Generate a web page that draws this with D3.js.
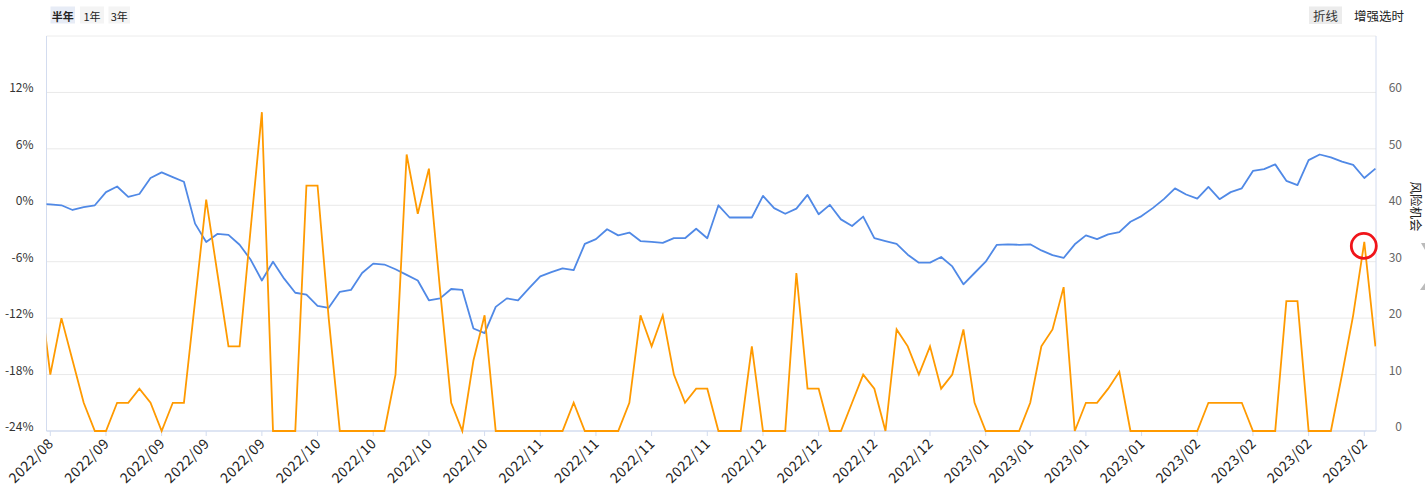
<!DOCTYPE html>
<html>
<head>
<meta charset="utf-8">
<script src="https://cdn.jsdelivr.net/npm/d3@7/dist/d3.min.js"></script>
<style>
  html, body { margin: 0; padding: 0; background: #fff; }
  svg { display: block; font-family: "Microsoft YaHei", "Noto Sans CJK SC", "Noto Sans", sans-serif; }
</style>
</head>
<body>
<svg id="chart" width="1425" height="502"></svg>
<script>
// ---------------- DATA ----------------
const dates = [
  "2022/08/26",
  "2022/08/29","2022/08/30","2022/08/31","2022/09/01","2022/09/02",
  "2022/09/05","2022/09/06","2022/09/07","2022/09/08","2022/09/09",
  "2022/09/13","2022/09/14","2022/09/15","2022/09/16",
  "2022/09/19","2022/09/20","2022/09/21","2022/09/22","2022/09/23",
  "2022/09/26","2022/09/27","2022/09/28","2022/09/29","2022/09/30",
  "2022/10/10","2022/10/11","2022/10/12","2022/10/13","2022/10/14",
  "2022/10/17","2022/10/18","2022/10/19","2022/10/20","2022/10/21",
  "2022/10/24","2022/10/25","2022/10/26","2022/10/27","2022/10/28",
  "2022/10/31","2022/11/01","2022/11/02","2022/11/03","2022/11/04",
  "2022/11/07","2022/11/08","2022/11/09","2022/11/10","2022/11/11",
  "2022/11/14","2022/11/15","2022/11/16","2022/11/17","2022/11/18",
  "2022/11/21","2022/11/22","2022/11/23","2022/11/24","2022/11/25",
  "2022/11/28","2022/11/29","2022/11/30","2022/12/01","2022/12/02",
  "2022/12/05","2022/12/06","2022/12/07","2022/12/08","2022/12/09",
  "2022/12/12","2022/12/13","2022/12/14","2022/12/15","2022/12/16",
  "2022/12/19","2022/12/20","2022/12/21","2022/12/22","2022/12/23",
  "2022/12/26","2022/12/27","2022/12/28","2022/12/29","2022/12/30",
  "2023/01/03","2023/01/04","2023/01/05","2023/01/06",
  "2023/01/09","2023/01/10","2023/01/11","2023/01/12","2023/01/13",
  "2023/01/16","2023/01/17","2023/01/18","2023/01/19","2023/01/20",
  "2023/01/30","2023/01/31","2023/02/01","2023/02/02","2023/02/03",
  "2023/02/06","2023/02/07","2023/02/08","2023/02/09","2023/02/10",
  "2023/02/13","2023/02/14","2023/02/15","2023/02/16","2023/02/17",
  "2023/02/20","2023/02/21","2023/02/22","2023/02/23","2023/02/24",
  "2023/02/27","2023/02/28"
];

// cumulative return (%), left axis
const returnPct = [
  0.15,
  0.1, 0.0, -0.5, -0.2, 0.0,
  1.4, 2.0, 0.9, 1.2, 2.9,
  3.5, 3.0, 2.5, -1.95,
  -3.9, -3.05, -3.15, -4.2, -5.8,
  -8.0, -6.0, -7.8, -9.3, -9.5,
  -10.7, -10.9, -9.2, -9.0, -7.2,
  -6.2, -6.3, -6.8, -7.4, -8.0,
  -10.1, -9.9, -8.9, -9.0, -13.1,
  -13.6, -10.8, -9.9, -10.1, -8.8,
  -7.55, -7.1, -6.7, -6.9, -4.1,
  -3.6, -2.55, -3.2, -2.9, -3.8,
  -3.9, -4.0, -3.5, -3.5, -2.5,
  -3.5, 0.0, -1.3, -1.3, -1.3,
  1.0, -0.3, -0.9, -0.35, 1.1,
  -0.95, 0.05, -1.5, -2.2, -1.2,
  -3.5, -3.8, -4.1, -5.25, -6.1,
  -6.1, -5.5, -6.5, -8.4, -7.2,
  -6.0, -4.2, -4.15, -4.2,
  -4.15, -4.8, -5.3, -5.6, -4.15,
  -3.2, -3.6, -3.1, -2.85, -1.75,
  -1.15, -0.3, 0.65, 1.8, 1.15,
  0.7, 1.95, 0.65, 1.4, 1.8,
  3.65, 3.85, 4.35, 2.6, 2.15,
  4.8, 5.4, 5.1, 4.65, 4.3,
  2.9, 3.9
];

// risk / opportunity indicator, right axis
const riskScore = [
  26,
  10, 20, 12.5, 5, 0,
  0, 5, 5, 7.5, 5,
  0, 5, 5, 23,
  41, 28, 15, 15, 36,
  56.5, 0, 0, 0, 43.5,
  43.5, 20, 0, 0, 0,
  0, 0, 10, 49, 38.5,
  46.5, 25, 5, 0, 12.5,
  20.5, 0, 0, 0, 0,
  0, 0, 0, 5, 0,
  0, 0, 0, 5, 20.5,
  15, 20.5, 10, 5, 7.5,
  7.5, 0, 0, 0, 15,
  0, 0, 0, 28, 7.5,
  7.5, 0, 0, 5, 10,
  7.5, 0, 18, 15, 10,
  15, 7.5, 10, 18, 5,
  0, 0, 0, 0,
  5, 15, 18, 25.5, 0,
  5, 5, 7.5, 10.5, 0,
  0, 0, 0, 0, 0,
  0, 5, 5, 5, 5,
  0, 0, 0, 23, 23,
  0, 0, 0, 10, 20.5,
  33.5, 15
];

const tickDates = [
  "2022/08/29","2022/09/05","2022/09/13","2022/09/19","2022/09/26",
  "2022/10/10","2022/10/17","2022/10/24","2022/10/31","2022/11/07",
  "2022/11/14","2022/11/21","2022/11/28","2022/12/05","2022/12/12",
  "2022/12/19","2022/12/26","2023/01/03","2023/01/09","2023/01/16",
  "2023/01/30","2023/02/06","2023/02/13","2023/02/20","2023/02/27"
];
const leftTicks = [-24, -18, -12, -6, 0, 6, 12];
const rightTicks = [0, 10, 20, 30, 40, 50, 60];
const rangeButtons = ["半年", "1年", "3年"];
const rightAxisName = "风险机会";
const highlightDate = "2023/02/27";

// ---------------- LAYOUT ----------------
const svg = d3.select("#chart");
const L = 46.5, R = 1376, T = 36, B = 431;

const x = d3.scaleLinear().domain([1, 119]).range([50.3, 1364.3]);
const yL = d3.scaleLinear().domain([-24, 18]).range([B, T]);
const yR = d3.scaleLinear().domain([0, 70]).range([B, T]);

// top buttons
const btnX = [50.5, 80, 108.5], btnW = [24.5, 24, 21.5];
rangeButtons.forEach((t, i) => {
  svg.append("rect").attr("x", btnX[i]).attr("y", 6.5).attr("width", btnW[i]).attr("height", 17)
    .attr("fill", i === 0 ? "#e7ecf6" : "#f4f4f4");
  svg.append("text").attr("x", btnX[i] + btnW[i] / 2).attr("y", 15.5)
    .attr("text-anchor", "middle").attr("dominant-baseline", "central")
    .attr("font-size", 11).attr("fill", "#222")
    .attr("font-weight", i === 0 ? "bold" : "normal").text(t);
});
svg.append("rect").attr("x", 1309).attr("y", 6.5).attr("width", 33).attr("height", 17.5).attr("fill", "#ececec");
svg.append("text").attr("x", 1325.5).attr("y", 15.5).attr("text-anchor", "middle")
  .attr("dominant-baseline", "central").attr("font-size", 12.5).attr("fill", "#333").text("折线");
svg.append("text").attr("x", 1354).attr("y", 15.5).attr("dominant-baseline", "central")
  .attr("font-size", 12.5).attr("fill", "#222").text("增强选时");

// grid
const g = svg.append("g");
g.append("line").attr("x1", L).attr("x2", R).attr("y1", T).attr("y2", T).attr("stroke", "#ececec");
rightTicks.filter(v => v > 0).forEach(v => {
  g.append("line").attr("x1", L).attr("x2", R).attr("y1", yR(v)).attr("y2", yR(v))
    .attr("stroke", "#e9e9e9").attr("stroke-width", 1);
});

// axes lines
g.append("line").attr("x1", L).attr("x2", L).attr("y1", T).attr("y2", B).attr("stroke", "#d3dcef");
g.append("line").attr("x1", R).attr("x2", R).attr("y1", T).attr("y2", B).attr("stroke", "#d3dcef");
g.append("line").attr("x1", L).attr("x2", R).attr("y1", B).attr("y2", B).attr("stroke", "#d3dcef").attr("stroke-width", 1.5);

// left labels
leftTicks.forEach(v => {
  svg.append("text").attr("x", 33.5).attr("y", yL(v) - 5.5).attr("text-anchor", "end")
    .attr("dominant-baseline", "central").attr("font-size", 12).attr("fill", "#333")
    .text(v + "%");
});
// right labels
rightTicks.forEach(v => {
  svg.append("text").attr("x", 1402).attr("y", yR(v) - 5.5).attr("text-anchor", "end")
    .attr("dominant-baseline", "central").attr("font-size", 12).attr("fill", "#666")
    .text(v);
});
svg.append("text").attr("transform", "translate(1416,206.5) rotate(90)")
  .attr("text-anchor", "middle").attr("dominant-baseline", "central")
  .attr("font-size", 12.5).attr("fill", "#222").text(rightAxisName);

// right edge partial icons
svg.append("path").attr("d", "M1421,243 L1425,243 L1425,250 Z").attr("fill", "#bbb");
svg.append("path").attr("d", "M1425,283 L1425,290 L1420,290 Z").attr("fill", "#bbb");

// x ticks + labels
tickDates.forEach(d => {
  const i = dates.indexOf(d);
  const tx = x(i);
  g.append("line").attr("x1", tx).attr("x2", tx).attr("y1", B).attr("y2", B + 5).attr("stroke", "#d3dcef");
  svg.append("text").attr("transform", `translate(${tx},440) rotate(-45)`)
    .attr("text-anchor", "end").attr("dominant-baseline", "central")
    .attr("font-size", 14).attr("letter-spacing", 0.6).attr("fill", "#222").text(d.slice(0, 7));
});

// clip
svg.append("clipPath").attr("id", "clip").append("rect")
  .attr("x", L).attr("y", T - 5).attr("width", R - L).attr("height", B - T + 10);

const lineL = d3.line().x((d, i) => x(i)).y(d => yL(d));
const lineR = d3.line().x((d, i) => x(i)).y(d => yR(d));

const plot = svg.append("g").attr("clip-path", "url(#clip)");
plot.append("path").datum(returnPct).attr("d", lineL)
  .attr("fill", "none").attr("stroke", "#5089e6").attr("stroke-width", 1.8).attr("stroke-linejoin", "round");
plot.append("path").datum(riskScore).attr("d", lineR)
  .attr("fill", "none").attr("stroke", "#ff9a00").attr("stroke-width", 1.8).attr("stroke-linejoin", "miter");

// highlight circle
const hi = dates.indexOf(highlightDate);
svg.append("circle").attr("cx", x(hi) - 0.5).attr("cy", yR(riskScore[hi]) + 4)
  .attr("r", 12.5).attr("fill", "none").attr("stroke", "#f0141a").attr("stroke-width", 2.8);
</script>
</body>
</html>
